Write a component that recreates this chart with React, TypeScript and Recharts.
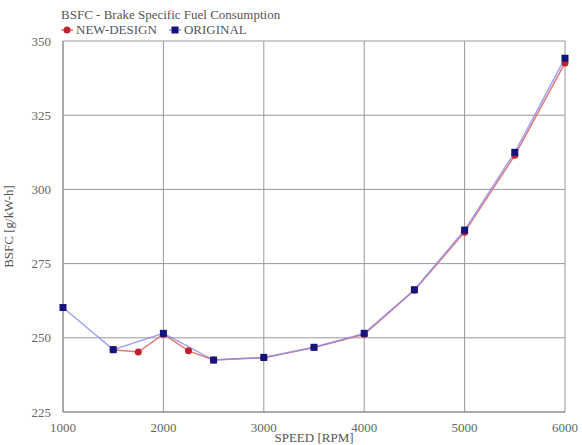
import { LineChart, Line, XAxis, YAxis, CartesianGrid } from "recharts";

const speedTicks = [1000, 2000, 3000, 4000, 5000, 6000];
const bsfcTicks = [225, 250, 275, 300, 325, 350];

const newDesignRpm = [1500, 1750, 2000, 2250, 2500, 3000, 3500, 4000, 4500, 5000, 5500, 6000];
const newDesignBsfc = [246, 245.2, 251.2, 245.6, 242.5, 243.3, 246.7, 251.2, 266, 285.6, 311.5, 342.6];

const originalRpm = [1000, 1500, 2000, 2500, 3000, 3500, 4000, 4500, 5000, 5500, 6000];
const originalBsfc = [260.2, 246, 251.5, 242.5, 243.4, 246.8, 251.5, 266.2, 286.3, 312.5, 344.2];

const newDesign = newDesignRpm.map((rpm, i) => ({ rpm, bsfc: newDesignBsfc[i] }));
const original = originalRpm.map((rpm, i) => ({ rpm, bsfc: originalBsfc[i] }));

const FONT = "'Liberation Serif', 'DejaVu Serif', serif";
const RED_DOT = "#c0202c";
const BLUE_DOT = "#14147e";

const SquareDot = (props: any) => {
  const { cx, cy } = props;
  if (cx == null || cy == null) return null;
  return <rect x={cx - 3.5} y={cy - 3.5} width={7} height={7} fill={BLUE_DOT} />;
};

function LegendRow() {
  return (
    <div
      style={{
        position: "absolute",
        left: 61,
        top: 22,
        display: "flex",
        alignItems: "center",
        fontFamily: FONT,
        fontSize: 13,
        color: "#555",
        whiteSpace: "nowrap",
      }}
    >
      <svg width={12} height={10}>
        <line x1={0} y1={5} x2={12} y2={5} stroke="#e07a7a" strokeWidth={1.5} />
        <circle cx={6} cy={5} r={3.5} fill={RED_DOT} />
      </svg>
      <span style={{ marginLeft: 3, marginRight: 12 }}>NEW-DESIGN</span>
      <svg width={12} height={10}>
        <line x1={0} y1={5} x2={12} y2={5} stroke="#8c8cf0" strokeWidth={1.5} />
        <rect x={2.5} y={1.5} width={7} height={7} fill={BLUE_DOT} />
      </svg>
      <span style={{ marginLeft: 3 }}>ORIGINAL</span>
    </div>
  );
}

export default function App() {
  return (
    <div style={{ position: "absolute", left: 0, top: 0, width: 582, height: 445, background: "#fff" }}>
      <LineChart width={582} height={445} margin={{ top: 41, right: 17, bottom: 0, left: 0 }}>
        <CartesianGrid stroke="#999" strokeWidth={1} />
        <XAxis
          dataKey="rpm"
          type="number"
          domain={[1000, 6000]}
          ticks={speedTicks}
          allowDuplicatedCategory={false}
          height={33}
          stroke="#888"
          tickLine={false}
          tickMargin={5}
          tick={{ fill: "#666", fontFamily: FONT, fontSize: 13 }}
          label={{ value: "SPEED [RPM]", position: "insideBottom", offset: 3, fill: "#555", fontFamily: FONT, fontSize: 13 }}
        />
        <YAxis
          dataKey="bsfc"
          type="number"
          domain={[225, 350]}
          ticks={bsfcTicks}
          width={63}
          stroke="#888"
          tickLine={false}
          tickMargin={6}
          tick={{ fill: "#666", fontFamily: FONT, fontSize: 13 }}
          label={{ value: "BSFC [g/kW-h]", angle: -90, position: "insideLeft", offset: 8, fill: "#555", fontFamily: FONT, fontSize: 13, style: { textAnchor: "middle" } }}
        />
        <Line
          data={newDesign}
          dataKey="bsfc"
          name="NEW-DESIGN"
          type="linear"
          stroke="#e07a7a"
          strokeWidth={1.5}
          dot={{ r: 3.5, fill: RED_DOT, stroke: RED_DOT, strokeWidth: 0 }}
          isAnimationActive={false}
        />
        <Line
          data={original}
          dataKey="bsfc"
          name="ORIGINAL"
          type="linear"
          stroke="#8c8cf0"
          strokeOpacity={0.8}
          strokeWidth={1.5}
          dot={<SquareDot />}
          isAnimationActive={false}
        />
      </LineChart>
      <div
        style={{
          position: "absolute",
          left: 61,
          top: 7,
          fontFamily: FONT,
          fontSize: 13,
          color: "#555",
          whiteSpace: "nowrap",
        }}
      >
        BSFC - Brake Specific Fuel Consumption
      </div>
      <LegendRow />
    </div>
  );
}
